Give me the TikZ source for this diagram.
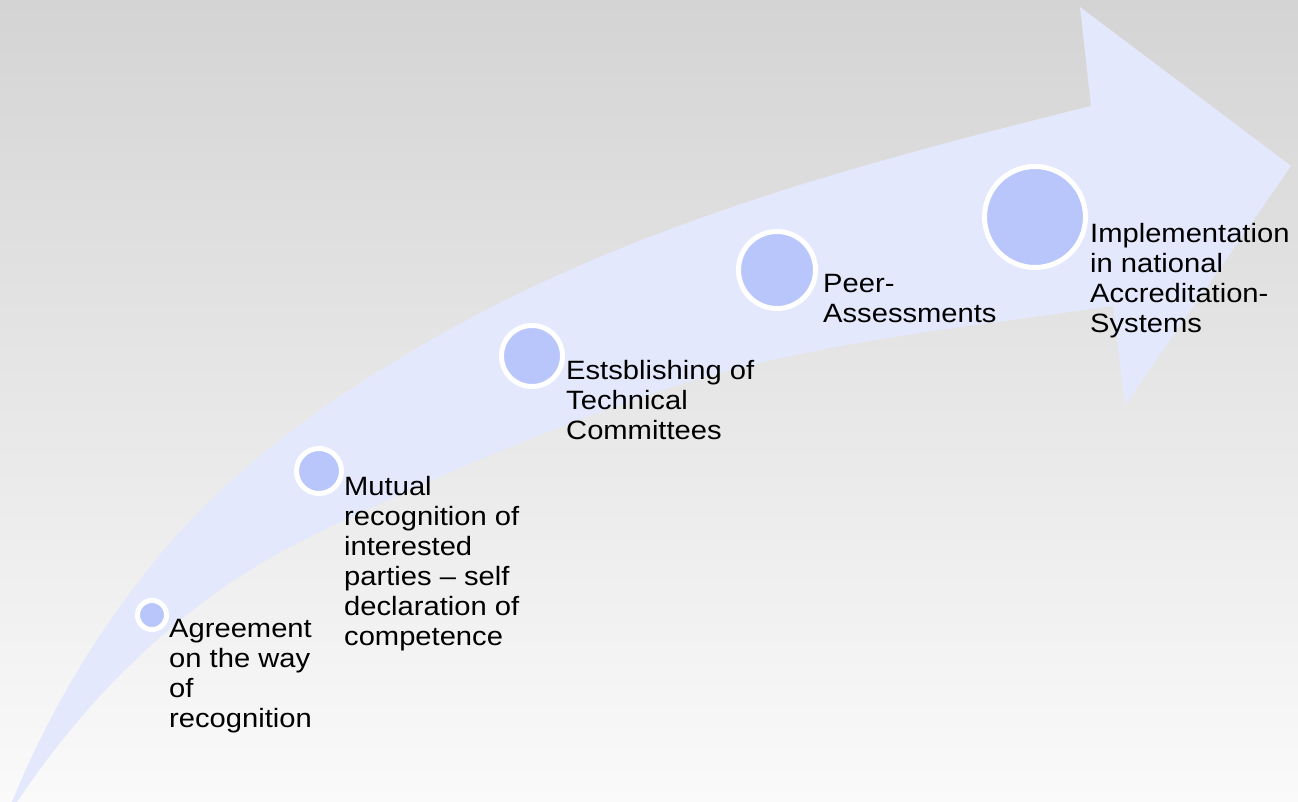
\documentclass[tikz,border=0pt]{standalone}
\usepackage{fontspec}
\setmainfont[FakeStretch=1.1]{Liberation Sans}
\usepackage{tikz}
\usetikzlibrary{positioning}
\usepackage{xcolor}
\definecolor{bgtop}{RGB}{212,212,212}
\definecolor{bgbottom}{RGB}{250,250,250}
\definecolor{arrowblue}{RGB}{228,232,252}
\definecolor{dotblue}{RGB}{184,198,252}

\begin{document}
\begin{tikzpicture}[x=1pt,y=-1pt]
  \tikzstyle{milestone}=[circle,draw=white,line width=5pt,fill=dotblue,inner sep=0pt]
  \tikzstyle{caption}=[align=left,inner sep=0pt,font=\fontsize{26.5}{30}\selectfont]

  \shade[top color=bgtop,bottom color=bgbottom] (0,0) rectangle (1298,802);
  \useasboundingbox (0,0) rectangle (1298,802);

  % the big bent arrow
  \fill[arrowblue] (12,802)
    .. controls (46,718) and (93,638) .. (150,567)
    .. controls (233,462) and (349,384) .. (467,320)
    .. controls (661,216) and (878,159) .. (1091,106)
    -- (1080,7) -- (1291,166) -- (1125,405) -- (1113,306)
    .. controls (952,329) and (786,345) .. (633,400)
    .. controls (519,441) and (408,488) .. (300,542)
    .. controls (186,599) and (88,695) .. (17,802)
    -- cycle;

  \node[milestone,minimum size=29pt]  (m_1) at (152,615)  {};
  \node[milestone,minimum size=45pt]  (m_2) at (319,471)  {};
  \node[milestone,minimum size=61pt]  (m_3) at (532,356)  {};
  \node[milestone,minimum size=77pt]  (m_4) at (777,270)  {};
  \node[milestone,minimum size=101pt] (m_5) at (1035,217) {};

  \node[caption] (t_1) [below right=4pt and 0pt of m_1.east] {Agreement\\on the way\\of\\recognition};
  \node[caption] (t_2) [below right=5pt and 0pt of m_2.east] {Mutual\\recognition of\\interested\\parties – self\\declaration of\\competence};
  \node[caption] (t_3) [below right=4pt and 1pt of m_3.east] {Estsblishing of\\Technical\\Committees};
  \node[caption] (t_4) [below right=4pt and 5pt of m_4.east] {Peer-\\Assessments};
  \node[caption] (t_5) [below right=6pt and 2pt of m_5.east] {Implementation\\in national\\Accreditation-\\Systems};
\end{tikzpicture}
\end{document}
